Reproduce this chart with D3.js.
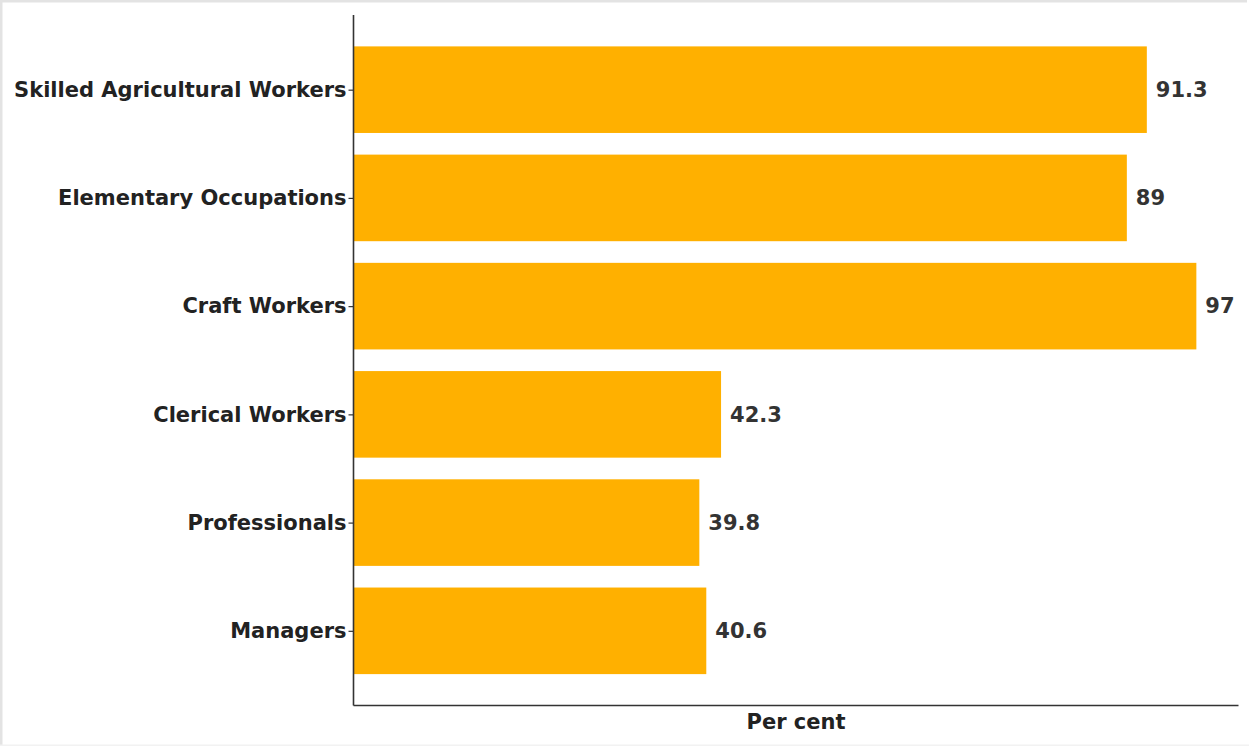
<!DOCTYPE html>
<html>
<head>
<meta charset="utf-8">
<script src="https://cdn.jsdelivr.net/npm/d3@7"></script>
<style>
  html, body { margin: 0; padding: 0; background: #fff; }
  svg { display: block; }
  text { font-family: "DejaVu Sans", sans-serif; font-weight: bold; }
</style>
</head>
<body>
<svg id="chart" width="1249" height="746"></svg>
<script>
// Share of workers by occupation group (per cent)
const categories = [
  "Skilled Agricultural Workers",
  "Elementary Occupations",
  "Craft Workers",
  "Clerical Workers",
  "Professionals",
  "Managers"
];
const values = [91.3, 89, 97, 42.3, 39.8, 40.6];
const xLabel = "Per cent";

const W = 1249, H = 746;
const plot = { left: 353.5, right: 1238.5, top: 15, bottom: 705.5 };
const FS = 21;

const svg = d3.select("#chart");

// light frame on the top and left edges
svg.append("rect").attr("x", 0).attr("y", 0).attr("width", 1247).attr("height", 2.5).attr("fill", "#e3e3e3");
svg.append("rect").attr("x", 0).attr("y", 0).attr("width", 2.5).attr("height", H).attr("fill", "#e3e3e3");
svg.append("rect").attr("x", 0).attr("y", H - 1.5).attr("width", W).attr("height", 1.5).attr("fill", "#f2f2f2");

const xMax = d3.max(values) * 1.05;
const x = d3.scaleLinear().domain([0, xMax]).range([plot.left, plot.right]);

// band layout: bar height 0.8 of step, 5% margin of the bar extent on each end
const n = categories.length;
const span = (n - 1) + 0.8;
const lo = -0.4 - 0.05 * span, hi = (n - 1) + 0.4 + 0.05 * span;
const yIdx = d3.scaleLinear().domain([lo, hi]).range([plot.top, plot.bottom]);
const step = yIdx(1) - yIdx(0);
const bandH = 0.8 * step;

// bars
svg.append("g").selectAll("rect")
  .data(values)
  .join("rect")
  .attr("x", x(0))
  .attr("y", (d, i) => yIdx(i) - bandH / 2)
  .attr("width", d => x(d) - x(0))
  .attr("height", bandH)
  .attr("fill", "#ffb000");

// value labels
svg.append("g").selectAll("text")
  .data(values)
  .join("text")
  .attr("x", d => x(d) + 9)
  .attr("y", (d, i) => yIdx(i))
  .attr("dy", "0.35em")
  .attr("font-size", FS)
  .attr("fill", "#333")
  .text(d => d);

// left axis with category labels
const yBand = d3.scaleOrdinal().domain(categories).range(categories.map((c, i) => yIdx(i)));
const yAxis = d3.axisLeft(yBand).tickSize(5).tickPadding(2);
const gy = svg.append("g").attr("transform", `translate(${plot.left},0)`).call(yAxis);
gy.select(".domain").remove();
gy.selectAll(".tick line").attr("stroke", "#333").attr("stroke-width", 1.2);
gy.selectAll(".tick text")
  .attr("font-size", FS)
  .attr("fill", "#222")
  .attr("font-family", "DejaVu Sans, sans-serif")
  .attr("font-weight", "bold");

// axis spines
svg.append("line")
  .attr("x1", plot.left).attr("x2", plot.left)
  .attr("y1", plot.top).attr("y2", plot.bottom)
  .attr("stroke", "#333").attr("stroke-width", 1.6);
svg.append("line")
  .attr("x1", plot.left).attr("x2", plot.right)
  .attr("y1", plot.bottom).attr("y2", plot.bottom)
  .attr("stroke", "#333").attr("stroke-width", 1.6);

// x-axis title
svg.append("text")
  .attr("x", (plot.left + plot.right) / 2)
  .attr("y", 729)
  .attr("text-anchor", "middle")
  .attr("font-size", FS)
  .attr("fill", "#222")
  .text(xLabel);
</script>
</body>
</html>
